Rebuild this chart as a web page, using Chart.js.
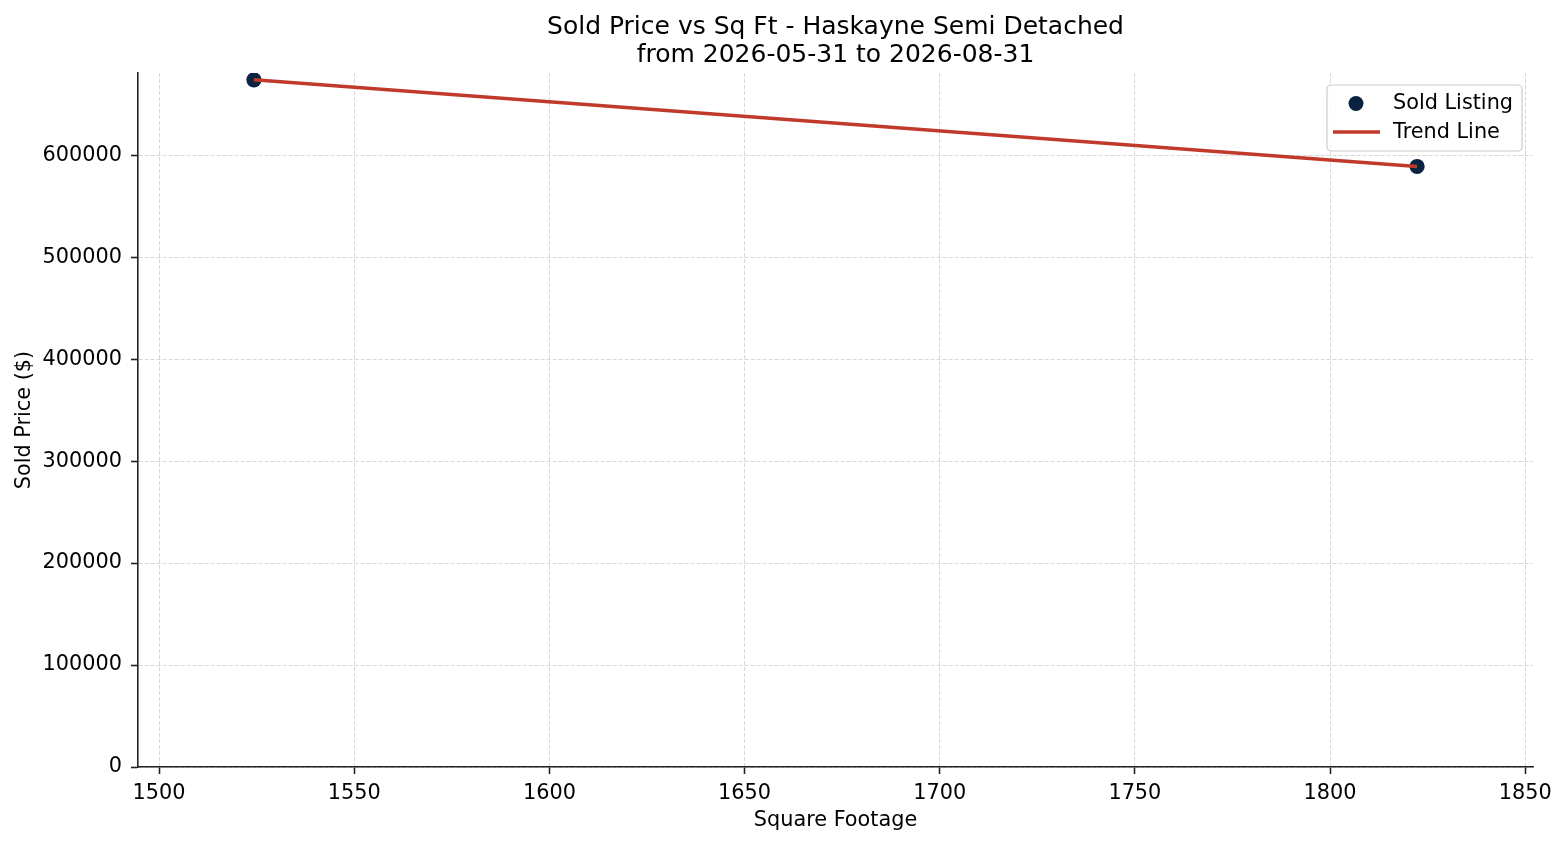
<!DOCTYPE html>
<html>
<head>
<meta charset="utf-8">
<title>Sold Price vs Sq Ft - Haskayne Semi Detached</title>
<script src="https://cdn.jsdelivr.net/npm/chart.js@4.4.1/dist/chart.umd.min.js"></script>
<style>
  html, body { margin: 0; padding: 0; background: #fff; }
  canvas { display: block; }
</style>
</head>
<body>
<canvas id="price-sqft-chart" width="1564" height="845"></canvas>
<script>
// Sold listings
const sqftValues = [1524.3, 1822.3];
const soldPrices = [674000, 589000];

// Trend line end points
const trendSqft = [1524.3, 1822.3];
const trendPrices = [674000, 589000];

const titleLines = ['Sold Price vs Sq Ft - Haskayne Semi Detached', 'from 2026-05-31 to 2026-08-31'];
const seriesLabels = ['Sold Listing', 'Trend Line'];
const xTicks = [1500, 1550, 1600, 1650, 1700, 1750, 1800, 1850];
const yTicks = [0, 100000, 200000, 300000, 400000, 500000, 600000];

const POINT_COLOR = '#0b2341';
const LINE_COLOR = '#c0392b';
const GRID_COLOR = 'rgba(0,0,0,0.2)';
const AXIS_COLOR = '#222222';

Chart.defaults.font.family = "'DejaVu Sans', sans-serif";
Chart.defaults.color = '#000000';

// matplotlib-like legend in the upper right of the plot area
const legendBox = {
  id: 'legendBox',
  afterDraw(chart) {
    const { ctx, chartArea } = chart;
    const w = 195, h = 66;
    const right = chartArea.right - 11;
    const top = chartArea.top + 12;
    const left = right - w;
    const ds = chart.data.datasets;

    ctx.save();
    ctx.beginPath();
    ctx.roundRect(left, top, w, h, 4);
    ctx.fillStyle = 'rgba(255,255,255,0.8)';
    ctx.fill();
    ctx.strokeStyle = '#cccccc';
    ctx.lineWidth = 1.2;
    ctx.stroke();

    // scatter marker
    ctx.beginPath();
    ctx.arc(left + 29, top + 18.5, 7.5, 0, Math.PI * 2);
    ctx.fillStyle = ds[0].backgroundColor;
    ctx.fill();

    // line sample
    ctx.beginPath();
    ctx.moveTo(left + 6, top + 47);
    ctx.lineTo(left + 53, top + 47);
    ctx.strokeStyle = ds[1].borderColor;
    ctx.lineWidth = 3.5;
    ctx.stroke();

    ctx.fillStyle = '#000';
    ctx.font = "20.8px 'DejaVu Sans', sans-serif";
    ctx.textAlign = 'left';
    ctx.textBaseline = 'middle';
    ctx.fillText(ds[0].label, left + 66, top + 19);
    ctx.fillText(ds[1].label, left + 66, top + 47.5);
    ctx.restore();
  }
};

const gridStyle = {
  color: GRID_COLOR,
  lineWidth: 0.8,
  drawTicks: true,
  tickLength: 7,
  tickColor: AXIS_COLOR,
  tickWidth: 1.6,
  tickBorderDash: []
};

// in Chart.js v4 border.dash applies to the grid lines
const borderStyle = { display: true, color: AXIS_COLOR, width: 1.6, dash: [4, 2] };

const ctx = document.getElementById('price-sqft-chart');

new Chart(ctx, {
  type: 'scatter',
  data: {
    datasets: [
      {
        label: seriesLabels[0],
        data: sqftValues.map((x, i) => ({ x, y: soldPrices[i] })),
        backgroundColor: POINT_COLOR,
        borderWidth: 0,
        pointRadius: 7.6,
        pointHoverRadius: 7.6,
        order: 1
      },
      {
        label: seriesLabels[1],
        data: trendSqft.map((x, i) => ({ x, y: trendPrices[i] })),
        showLine: true,
        borderColor: LINE_COLOR,
        backgroundColor: LINE_COLOR,
        borderWidth: 3.5,
        pointRadius: 0,
        pointHoverRadius: 0,
        tension: 0,
        order: 0
      }
    ]
  },
  options: {
    responsive: false,
    animation: false,
    devicePixelRatio: 1,
    events: [],
    layout: { padding: { left: 0, right: 31, top: 0, bottom: 0 } },
    plugins: {
      legend: { display: false },
      tooltip: { enabled: false },
      title: {
        display: true,
        fullSize: false,
        text: titleLines,
        color: '#000',
        font: { size: 25, weight: 'normal', lineHeight: 1.12 },
        padding: { top: 13, bottom: 4 }
      }
    },
    scales: {
      x: {
        type: 'linear',
        min: 1494.6,
        max: 1852,
        afterBuildTicks: scale => { scale.ticks = xTicks.map(v => ({ value: v })); },
        afterFit: scale => {
          scale.height = 78;
          scale.paddingLeft = 0; scale.paddingRight = 0;
        },
        ticks: {
          font: { size: 20.8 },
          color: '#000',
          padding: 7,
          maxRotation: 0,
          callback: v => String(v)
        },
        grid: gridStyle,
        border: borderStyle,
        title: {
          display: true,
          text: 'Square Footage',
          color: '#000',
          font: { size: 20.8 },
          padding: { top: 0, bottom: 11.5 }
        }
      },
      y: {
        type: 'linear',
        min: 0,
        max: 680700,
        afterBuildTicks: scale => { scale.ticks = yTicks.map(v => ({ value: v })); },
        afterFit: scale => {
          scale.width = 138;
          scale.paddingTop = 0; scale.paddingBottom = 0;
        },
        ticks: {
          font: { size: 20.8 },
          color: '#000',
          padding: 9,
          callback: v => String(v)
        },
        grid: gridStyle,
        border: borderStyle,
        title: {
          display: true,
          text: 'Sold Price ($)',
          color: '#000',
          font: { size: 20.8 },
          padding: { top: 12.5, bottom: 0 }
        }
      }
    }
  },
  plugins: [legendBox]
});
</script>
</body>
</html>
